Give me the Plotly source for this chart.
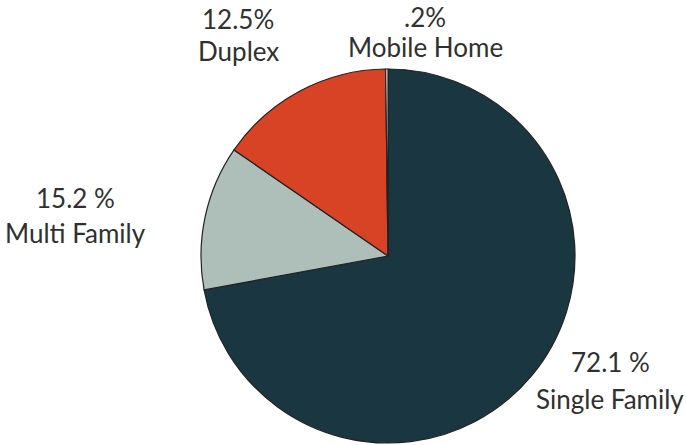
import plotly.graph_objects as go

# slice order as drawn clockwise from 12 o'clock
slice_names = ["Single Family", "Gray slice", "Orange slice", "Mobile Home"]
slice_values = [72.1, 12.5, 15.2, 0.2]
slice_colors = ["#1a3640", "#aebfba", "#d84326", "#f2f2f2"]

# label texts as printed on the chart
label_values = ["72.1 %", "15.2 %", "12.5%", ".2%"]
label_names = ["Single Family", "Multi Family", "Duplex", "Mobile Home"]
# label anchor positions (pixel centers): value line y, name line y
label_x = [610, 75, 238, 425]
label_y_val = [362, 198, 19, 17]
label_y_name = [399, 233, 51, 47]

W, H = 686, 445
fig = go.Figure()
fig.add_trace(go.Pie(
    labels=slice_names,
    values=slice_values,
    marker=dict(colors=slice_colors, line=dict(color="#222222", width=1.2)),
    sort=False,
    direction="clockwise",
    rotation=0,
    textinfo="none",
    hoverinfo="label+value",
    showlegend=False,
    domain=dict(x=[201 / W, 575 / W], y=[(H - 443) / H, (H - 69) / H]),
))

font = dict(family="Lato, 'Open Sans', sans-serif", size=26, color="#303030")
for i in range(len(label_names)):
    fig.add_annotation(x=label_x[i] / W, y=1 - label_y_val[i] / H, xref="paper", yref="paper",
                       text=label_values[i], showarrow=False, font=font,
                       xanchor="center", yanchor="middle")
    fig.add_annotation(x=label_x[i] / W, y=1 - label_y_name[i] / H, xref="paper", yref="paper",
                       text=label_names[i], showarrow=False, font=font,
                       xanchor="center", yanchor="middle")

fig.update_layout(width=W, height=H, margin=dict(l=0, r=0, t=0, b=0),
                  paper_bgcolor="white", plot_bgcolor="white")
fig.write_html("out.html", config={"displayModeBar": False},
               post_script="document.body.style.margin='0';")
